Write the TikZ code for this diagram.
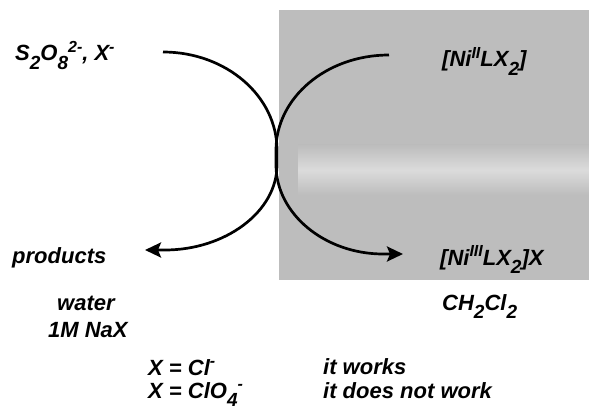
\documentclass[tikz,border=0pt]{standalone}
\usepackage{fontspec}
\setmainfont{Liberation Sans}
\usetikzlibrary{arrows.meta}
\newcommand\mysub[1]{\raisebox{-0.38em}{\fontsize{19pt}{19pt}\selectfont #1}}
\newcommand\mysup[1]{\raisebox{0.38em}{\fontsize{16pt}{16pt}\selectfont #1}}
\tikzset{
  lbl/.style={anchor=base west, inner sep=0pt, font=\fontsize{22pt}{26pt}\selectfont\bfseries\itshape},
  flow/.style={line width=2.7pt, -{Stealth[length=16pt,width=15pt,inset=3pt]}}
}
\begin{document}
\begin{tikzpicture}[x=1pt,y=-1pt]
\useasboundingbox (0,0) rectangle (589,409);
% organic phase shading
\fill[black!26] (279,10) rectangle (589,280);
\shade[top color=black!26, bottom color=black!26, middle color=black!14]
  (298,145) rectangle (589,195);
% labels
\node[lbl] (s2o8) at (15,61) {S\mysub{2}O\mysub{8}\mysup{2-}, X\mysup{-}};
\node[lbl] (ni2) at (442,67) {[Ni\mysup{II}LX\mysub{2}]};
\node[lbl] (prod) at (12,263) {products};
\node[lbl] (ni3) at (440,265) {[Ni\mysup{III}LX\mysub{2}]X};
\node[lbl] (water) at (57,310) {water};
\node[lbl] (nax) at (48,337) {1M NaX};
\node[lbl] (ch2cl2) at (442,310) {CH\mysub{2}Cl\mysub{2}};
\node[lbl] (xcl) at (148,375) {X = Cl\mysup{-}};
\node[lbl] (xclo) at (148,398) {X = ClO\mysub{4}\mysup{-}};
\node[lbl] (works) at (323,374) {it works};
\node[lbl] (notwork) at (323,398) {it does not work};
% connector ends
\coordinate (c1s) at (163,52);
\coordinate (c1e) at (145,250);
\coordinate (c2s) at (389,55);
\coordinate (c2e) at (403,254);
% curves
\draw[flow] (c1s) .. controls (226,52) and (277,96) .. (277,150) -- (277,165)
  .. controls (277,212) and (225,250) .. (165,250) -- (c1e);
\draw[flow] (c2s) .. controls (326,55) and (276,98) .. (276,150) -- (276,165)
  .. controls (276,214) and (325,254) .. (383,254) -- (c2e);
\end{tikzpicture}
\end{document}
